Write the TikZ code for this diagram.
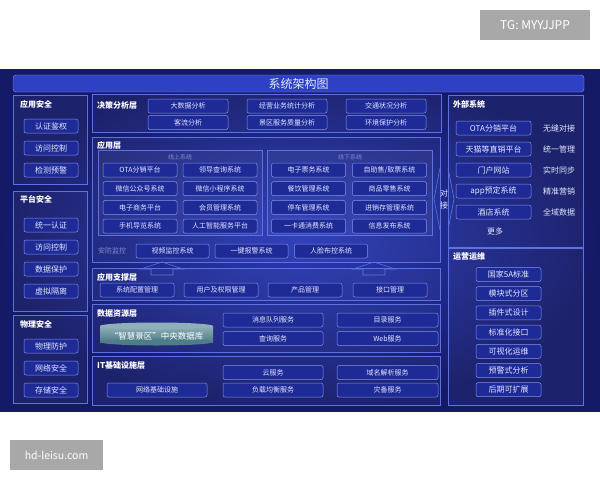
\documentclass[tikz,border=0pt]{standalone}
\usepackage{fontspec}
\setmainfont{Noto Sans CJK SC}
\definecolor{panelin}{HTML}{2A3AB8}
\definecolor{panelout}{HTML}{141A66}
\definecolor{titlefill}{HTML}{2E41C4}
\definecolor{boxline}{HTML}{5C72E0}
\definecolor{btnline}{HTML}{7F92F2}
\definecolor{btnfill}{HTML}{1E2A96}
\definecolor{txt}{HTML}{E4E8FF}
\definecolor{dim}{HTML}{7F8BD0}
\definecolor{wm}{HTML}{A8A8A8}
\definecolor{dbtop}{HTML}{8FB0B8}
\definecolor{dbside}{HTML}{4E7C88}
\begin{document}
\begin{tikzpicture}[x=1pt,y=-1pt,
  layer/.style={draw=boxline, line width=0.6pt, fill=white, fill opacity=0.04},
  btn/.style={draw=btnline, line width=0.5pt, fill=btnfill, rounded corners=2pt, inner sep=0pt,
    minimum height=14pt, text=txt, font=\fontsize{7}{8}\selectfont},
  sidebtn/.style={btn, minimum width=54pt, font=\fontsize{8}{9}\selectfont},
  hdr/.style={anchor=west, inner sep=0pt, text=white, font=\bfseries\fontsize{8}{9}\selectfont},
  sub/.style={inner sep=0pt, text=dim, font=\fontsize{6}{7}\selectfont},
  wmark/.style={fill=wm, text=white, inner sep=0pt, minimum height=30pt}]
\useasboundingbox (0,0) rectangle (600,480);
\fill[white] (0,0) rectangle (600,480);
% watermarks
\node[wmark, minimum width=110pt, font=\fontsize{12}{13}\selectfont] (tg) at (535,25) {TG: MYYJJPP};
\node[wmark, minimum width=93pt, font=\fontsize{10.5}{12}\selectfont] (hd) at (56.5,455) {hd-leisu.com};
% panel and title
\shade[inner color=panelin, outer color=panelout] (0,69) rectangle (600,411);
\node[draw=btnline, fill=titlefill, rounded corners=3pt, minimum width=571pt, minimum height=17pt,
  inner sep=0pt, text=txt, font=\fontsize{12}{13}\selectfont] (title) at (298.5,83.5) {系统架构图};

% left column
\draw[layer] (13,95) rectangle (87,184);
\node[hdr] (hyyaq) at (20,104) {应用安全};
\foreach \t [count=\i] in {认证鉴权,访问控制,检测预警}
  \node[sidebtn] (yy\i) at (51,104+22*\i) {\t};
\draw[layer] (13,191) rectangle (87,311);
\node[hdr] (hptaq) at (20,199) {平台安全};
\foreach \t [count=\i] in {统一认证,访问控制,数据保护,虚拟隔离}
  \node[sidebtn] (pt\i) at (51,203+22*\i) {\t};
\draw[layer] (13,315) rectangle (87,403);
\node[hdr] (hwlaq) at (20,324) {物理安全};
\foreach \t [count=\i] in {物理防护,网络安全,存储安全}
  \node[sidebtn] (wl\i) at (51,324+22*\i) {\t};

% decision layer
\draw[layer] (92,94) rectangle (441,132);
\node[hdr] (hjc) at (97,105) {决策分析层};
\foreach \t [count=\i] in {大数据分析,经营业务统计分析,交通状况分析}
  \node[btn, minimum width=80pt] (jc\i) at (89+99*\i,106) {\t};
\foreach \t [count=\i] in {客流分析,景区服务质量分析,环境保护分析}
  \node[btn, minimum width=80pt] (jd\i) at (89+99*\i,122.5) {\t};

% application layer
\draw[layer] (92,137) rectangle (440,262);
\node[hdr] (hyy) at (97,145) {应用层};
\draw[layer] (98,150) rectangle (262,235);
\node[sub] (xs) at (180,157) {线上系统};
\foreach \a/\b [count=\i] in {OTA分销平台/领导查询系统,微信公众号系统/微信小程序系统,电子商务平台/会员管理系统,手机导览系统/人工智能服务平台}
{
  \node[btn, minimum width=74pt] (xsa\i) at (140,151.3+18.7*\i) {\a};
  \node[btn, minimum width=74pt] (xsb\i) at (220,151.3+18.7*\i) {\b};
}
\draw[layer] (267,150) rectangle (432,235);
\node[sub] (xx) at (350,157) {线下系统};
\foreach \a/\b [count=\i] in {电子票务系统/{自助售/取票系统},餐饮管理系统/商品零售系统,停车管理系统/进销存管理系统,一卡通消费系统/信息发布系统}
{
  \node[btn, minimum width=74pt] (xxa\i) at (308.5,151.3+18.7*\i) {\a};
  \node[btn, minimum width=74pt] (xxb\i) at (389.5,151.3+18.7*\i) {\b};
}
\node[sub, anchor=west, font=\fontsize{7}{8}\selectfont] (af) at (98,251) {安防监控};
\node[btn, minimum width=73pt] (af1) at (172.5,251) {视频监控系统};
\node[btn, minimum width=73pt] (af2) at (251.5,251) {一键报警系统};
\node[btn, minimum width=73pt] (af3) at (331,251) {人脸布控系统};

% docking arrow
\draw[boxline, line width=0.6pt] (440,168) -- (434,199) -- (440,230);
\draw[boxline, line width=0.6pt] (448,168) -- (454,199) -- (448,230);
\node[inner sep=0pt, text=txt, font=\fontsize{8}{9}\selectfont] (dj1) at (444,193) {对};
\node[inner sep=0pt, text=txt, font=\fontsize{8}{9}\selectfont] (dj2) at (444,205) {接};

% up arrows
\foreach \cx in {162,374}
  \draw[boxline, line width=0.6pt] (\cx-11,275) -- (\cx-11,269) -- (\cx-21,269) -- (\cx,262)
    -- (\cx+21,269) -- (\cx+11,269) -- (\cx+11,275) -- cycle;

% support layer
\draw[layer] (92,268) rectangle (440,300);
\node[hdr] (hzc) at (97,277) {应用支撑层};
\foreach \t/\x [count=\i] in {系统配置管理/137,用户及权限管理/221,产品管理/305,接口管理/390}
  \node[btn, minimum width=74pt] (zc\i) at (\x,290) {\t};

% data layer
\draw[layer] (92,304) rectangle (440,352);
\node[hdr] (hsj) at (97,313) {数据资源层};
\shade[top color=dbtop, bottom color=dbside] (100,326) rectangle (213,342);
\fill[dbside] (156.5,342) ellipse (56.5 and 3.5);
\fill[dbtop] (156.5,326) ellipse (56.5 and 3.5);
\node[inner sep=0pt, text=white, font=\fontsize{8.5}{9}\selectfont] (db) at (156.5,336) {“智慧景区”中央数据库};
\node[btn, minimum width=100pt] (sj1) at (273,320) {消息队列服务};
\node[btn, minimum width=101pt] (sj2) at (387.5,320) {目录服务};
\node[btn, minimum width=100pt] (sj3) at (273,338.5) {查询服务};
\node[btn, minimum width=101pt] (sj4) at (387.5,338.5) {Web服务};

% infrastructure layer
\draw[layer] (92,356) rectangle (440,405);
\node[hdr] (hit) at (97,365) {IT基础设施层};
\node[btn, minimum width=100pt] (it1) at (273,372.5) {云服务};
\node[btn, minimum width=101pt] (it2) at (387.5,372.5) {域名解析服务};
\node[btn, minimum width=100pt] (it3) at (157,390) {网络基础设施};
\node[btn, minimum width=100pt] (it4) at (273,390) {负载均衡服务};
\node[btn, minimum width=101pt] (it5) at (387.5,390) {灾备服务};

% right column
\draw[layer] (448,95) rectangle (583,247);
\node[hdr] (hwb) at (453,104) {外部系统};
\foreach \a/\b [count=\i] in {OTA分销平台/无缝对接,天猫等直销平台/统一管理,门户网站/实时同步,app预定系统/精准营销,酒店系统/全域数据}
{
  \node[btn, minimum width=75pt, font=\fontsize{8}{9}\selectfont] (wb\i) at (493.5,107+21*\i) {\a};
  \node[inner sep=0pt, text=txt, font=\fontsize{8}{9}\selectfont] (wl\i) at (559,107+21*\i) {\b};
}
\node[inner sep=0pt, text=txt, font=\fontsize{8}{9}\selectfont] (gd) at (495,231) {更多};
\draw[layer] (448,248) rectangle (583,405);
\node[hdr] (hyw) at (453,256) {运营运维};
\foreach \t [count=\i] in {国家5A标准,模块式分区,插件式设计,标准化接口,可视化运维,预警式分析,后期可扩展}
  \node[btn, minimum width=65pt, font=\fontsize{8}{9}\selectfont] (yw\i) at (508.5,255.3+19.2*\i) {\t};
\end{tikzpicture}
\end{document}
